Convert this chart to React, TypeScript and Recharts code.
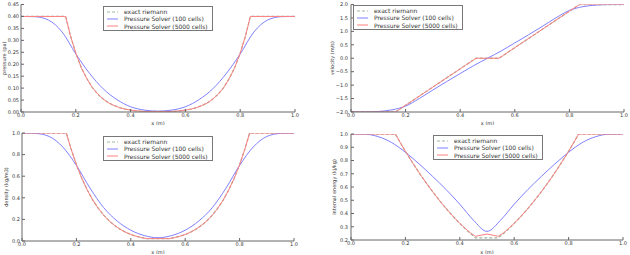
import { LineChart, Line, XAxis, YAxis, Legend, Label } from 'recharts'

const FONT = 'DejaVu Sans'
const TEXT = '#333'
const FRAME = '#666'
const EXACT_COLOR = '#a0b8a0'
const COARSE_COLOR = '#8080ff'
const FINE_COLOR = '#ff8080'

// shared x grids (m)
const X_TICKS = [0, 0.2, 0.4, 0.6, 0.8, 1.0]
const FINE_X = [
  0, 0.163, 0.18, 0.2, 0.22, 0.24, 0.26, 0.28, 0.3, 0.32, 0.34, 0.36, 0.38, 0.4, 0.42, 0.44, 0.458,
  0.5, 0.542, 0.56, 0.58, 0.6, 0.62, 0.64, 0.66, 0.68, 0.7, 0.72, 0.74, 0.76, 0.78, 0.8, 0.82, 0.837, 1,
]
const COARSE_X = [
  0, 0.05, 0.1, 0.15, 0.2, 0.25, 0.3, 0.35, 0.4, 0.45, 0.5, 0.55, 0.6, 0.65, 0.7, 0.75, 0.8, 0.85, 0.9, 0.95, 1,
]

// pressure (pa)
const EXACT_PRESSURE = [
  0.4, 0.4, 0.321, 0.246, 0.186, 0.14, 0.103, 0.075, 0.054, 0.038, 0.027, 0.018, 0.012, 0.008, 0.005, 0.003, 0.002,
  0.002, 0.002, 0.003, 0.005, 0.008, 0.012, 0.018, 0.027, 0.038, 0.054, 0.075, 0.103, 0.14, 0.186, 0.246, 0.321, 0.4, 0.4,
]
const FINE_PRESSURE = EXACT_PRESSURE
const COARSE_PRESSURE = [
  0.4, 0.399, 0.385, 0.335, 0.243, 0.162, 0.097, 0.052, 0.022, 0.008, 0.0035, 0.008, 0.022, 0.052, 0.097, 0.162, 0.243,
  0.335, 0.385, 0.399, 0.4,
]

// velocity (m/s)
const EXACT_VELOCITY = [
  -2, -2, -1.885, -1.749, -1.614, -1.478, -1.342, -1.207, -1.071, -0.936, -0.8, -0.664, -0.529, -0.393, -0.258, -0.122, 0,
  0, 0, 0.122, 0.258, 0.393, 0.529, 0.664, 0.8, 0.936, 1.071, 1.207, 1.342, 1.478, 1.614, 1.749, 1.885, 2, 2,
]
const FINE_VELOCITY = EXACT_VELOCITY
const COARSE_VELOCITY = [
  -2, -1.998, -1.98, -1.92, -1.78, -1.5, -1.18, -0.87, -0.57, -0.27, 0, 0.27, 0.57, 0.87, 1.18, 1.5, 1.78, 1.92, 1.98,
  1.998, 2,
]

// density (kg/m3)
const EXACT_DENSITY = [
  1, 1, 0.855, 0.707, 0.58, 0.472, 0.38, 0.304, 0.24, 0.187, 0.145, 0.11, 0.082, 0.06, 0.044, 0.031, 0.022,
  0.022, 0.022, 0.031, 0.044, 0.06, 0.082, 0.11, 0.145, 0.187, 0.24, 0.304, 0.38, 0.472, 0.58, 0.707, 0.855, 1, 1,
]
const FINE_DENSITY = EXACT_DENSITY
const COARSE_DENSITY = [
  1, 0.996, 0.968, 0.87, 0.7, 0.49, 0.31, 0.185, 0.1, 0.05, 0.03, 0.05, 0.1, 0.185, 0.31, 0.49, 0.7, 0.87, 0.968, 0.996, 1,
]

// internal energy (kj/kg)
const EXACT_ENERGY = [
  1, 1, 0.939, 0.87, 0.804, 0.74, 0.679, 0.621, 0.565, 0.512, 0.461, 0.413, 0.368, 0.325, 0.285, 0.248, 0.216,
  0.216, 0.216, 0.248, 0.285, 0.325, 0.368, 0.413, 0.461, 0.512, 0.565, 0.621, 0.679, 0.74, 0.804, 0.87, 0.939, 1, 1,
]
const FINE_ENERGY = [
  1, 1, 0.939, 0.87, 0.804, 0.74, 0.679, 0.621, 0.565, 0.512, 0.461, 0.413, 0.368, 0.325, 0.288, 0.252, 0.228,
  0.245, 0.228, 0.252, 0.288, 0.325, 0.368, 0.413, 0.461, 0.512, 0.565, 0.621, 0.679, 0.74, 0.804, 0.87, 0.939, 1, 1,
]
const COARSE_ENERGY = [
  1, 0.999, 0.98, 0.935, 0.862, 0.775, 0.68, 0.58, 0.47, 0.35, 0.265, 0.35, 0.47, 0.58, 0.68, 0.775, 0.862, 0.935, 0.98,
  0.999, 1,
]

const PRESSURE_TICKS = [0, 0.05, 0.1, 0.15, 0.2, 0.25, 0.3, 0.35, 0.4, 0.45]
const VELOCITY_TICKS = [-2, -1.5, -1, -0.5, 0, 0.5, 1, 1.5, 2]
const DENSITY_TICKS = [0, 0.2, 0.4, 0.6, 0.8, 1]
const ENERGY_TICKS = [0.2, 0.3, 0.4, 0.5, 0.6, 0.7, 0.8, 0.9, 1]

const LEGEND_ROWS = [
  { label: 'exact riemann', color: EXACT_COLOR, dash: '3 2' },
  { label: 'Pressure Solver (100 cells)', color: COARSE_COLOR, dash: undefined },
  { label: 'Pressure Solver (5000 cells)', color: FINE_COLOR, dash: undefined },
]

const toPoints = (xs: number[], ys: number[]) => xs.map((x, i) => ({ x, y: ys[i] }))

const fmt = (digits: number) => (v: number) => {
  const s = Math.abs(v).toFixed(digits)
  return v < 0 ? `\u2212${s}` : s
}

function LegendBox() {
  return (
    <div
      style={{
        width: 110,
        height: 25,
        boxSizing: 'border-box',
        border: '1px solid #777',
        background: '#fff',
        padding: '1px 0 0 3px',
        fontFamily: FONT,
        fontSize: 6,
        color: TEXT,
      }}
    >
      {LEGEND_ROWS.map((r) => (
        <div key={r.label} style={{ display: 'flex', alignItems: 'center', height: 7.3 }}>
          <svg width={11} height={4} style={{ flex: 'none' }}>
            <line x1={0} y1={2} x2={11} y2={2} stroke={r.color} strokeWidth={1} strokeDasharray={r.dash} />
          </svg>
          <span style={{ marginLeft: 6, whiteSpace: 'nowrap', lineHeight: '7px' }}>{r.label}</span>
        </div>
      ))}
    </div>
  )
}

interface PanelProps {
  left: number
  top: number
  width: number
  height: number
  margin: { top: number; right: number; bottom: number; left: number }
  yWidth: number
  xHeight: number
  domain: [number, number]
  yTicks: number[]
  digits: number
  yTitle: string
  titleOffset: number
  tickGap: number
  exact: number[]
  coarse: number[]
  fine: number[]
  legendAt: { left: number; top: number }
}

function Panel(p: PanelProps) {
  const tickStyle = { fontSize: 5, fill: TEXT, fontFamily: FONT }
  return (
    <div style={{ position: 'absolute', left: p.left, top: p.top }}>
      <LineChart width={p.width} height={p.height} margin={p.margin}>
        <XAxis
          dataKey="x"
          type="number"
          domain={[0, 1]}
          ticks={X_TICKS}
          interval={0}
          allowDataOverflow
          tickFormatter={fmt(1)}
          height={p.xHeight}
          tickSize={-3}
          tickMargin={4.5}
          tick={tickStyle}
          stroke={FRAME}
        >
          <Label value="x (m)" position="insideBottom" offset={0} style={{ fontSize: 5, fill: TEXT, fontFamily: FONT }} />
        </XAxis>
        <XAxis
          xAxisId="top"
          orientation="top"
          type="number"
          domain={[0, 1]}
          ticks={X_TICKS}
          interval={0}
          height={0}
          tick={false}
          tickSize={-3}
          stroke={FRAME}
        />
        <YAxis
          type="number"
          domain={p.domain}
          ticks={p.yTicks}
          interval={0}
          allowDataOverflow
          tickFormatter={fmt(p.digits)}
          width={p.yWidth}
          tickSize={-3}
          tickMargin={p.tickGap}
          tick={tickStyle}
          stroke={FRAME}
        >
          <Label
            value={p.yTitle}
            angle={-90}
            position="insideLeft"
            offset={p.titleOffset}
            style={{ fontSize: 5, fill: TEXT, fontFamily: FONT, textAnchor: 'middle' }}
          />
        </YAxis>
        <YAxis
          yAxisId="right"
          orientation="right"
          type="number"
          domain={p.domain}
          ticks={p.yTicks}
          interval={0}
          width={0}
          tick={false}
          tickSize={-3}
          stroke={FRAME}
        />
        <Legend
          layout="vertical"
          align="center"
          verticalAlign="middle"
          content={() => <LegendBox />}
          wrapperStyle={{ left: p.legendAt.left, top: p.legendAt.top, width: 'auto', height: 'auto' }}
        />
        <Line
          name="exact riemann"
          data={toPoints(FINE_X, p.exact)}
          dataKey="y"
          type="linear"
          stroke={EXACT_COLOR}
          strokeWidth={1.3}
          strokeDasharray="3 2"
          dot={false}
          activeDot={false}
          isAnimationActive={false}
        />
        <Line
          name="Pressure Solver (100 cells)"
          data={toPoints(COARSE_X, p.coarse)}
          dataKey="y"
          type="monotone"
          stroke={COARSE_COLOR}
          strokeWidth={1}
          dot={false}
          activeDot={false}
          isAnimationActive={false}
        />
        <Line
          name="Pressure Solver (5000 cells)"
          data={toPoints(FINE_X, p.fine)}
          dataKey="y"
          type="linear"
          stroke={FINE_COLOR}
          strokeWidth={1}
          dot={false}
          activeDot={false}
          isAnimationActive={false}
        />
      </LineChart>
    </div>
  )
}

export default function App() {
  return (
    <div style={{ position: 'absolute', left: 0, top: 0, width: 630, height: 255, background: '#fff' }}>
      <Panel
        left={0}
        top={0}
        width={300}
        height={125}
        margin={{ top: 4.5, right: 5, bottom: 0, left: 0 }}
        yWidth={21}
        xHeight={13}
        domain={[0, 0.45]}
        yTicks={PRESSURE_TICKS}
        digits={2}
        yTitle="pressure (pa)"
        titleOffset={4}
        tickGap={5}
        exact={EXACT_PRESSURE}
        coarse={COARSE_PRESSURE}
        fine={FINE_PRESSURE}
        legendAt={{ left: 103, top: 6 }}
      />
      <Panel
        left={315}
        top={0}
        width={315}
        height={125}
        margin={{ top: 4.5, right: 6, bottom: 0, left: 0 }}
        yWidth={36}
        xHeight={13}
        domain={[-2, 2]}
        yTicks={VELOCITY_TICKS}
        digits={1}
        yTitle="velocity (m/s)"
        titleOffset={17}
        tickGap={6}
        exact={EXACT_VELOCITY}
        coarse={COARSE_VELOCITY}
        fine={FINE_VELOCITY}
        legendAt={{ left: 38, top: 5 }}
      />
      <Panel
        left={0}
        top={127}
        width={300}
        height={127}
        margin={{ top: 6, right: 6, bottom: 0, left: 0 }}
        yWidth={22}
        xHeight={13}
        domain={[0, 1]}
        yTicks={DENSITY_TICKS}
        digits={1}
        yTitle="density (kg/m3)"
        titleOffset={6}
        tickGap={5}
        exact={EXACT_DENSITY}
        coarse={COARSE_DENSITY}
        fine={FINE_DENSITY}
        legendAt={{ left: 103, top: 9 }}
      />
      <Panel
        left={315}
        top={127}
        width={315}
        height={127}
        margin={{ top: 7, right: 7, bottom: 0, left: 0 }}
        yWidth={36}
        xHeight={14}
        domain={[0.2, 1]}
        yTicks={ENERGY_TICKS}
        digits={1}
        yTitle="internal energy (kj/kg)"
        titleOffset={19}
        tickGap={6}
        exact={EXACT_ENERGY}
        coarse={COARSE_ENERGY}
        fine={FINE_ENERGY}
        legendAt={{ left: 118, top: 8 }}
      />
    </div>
  )
}
